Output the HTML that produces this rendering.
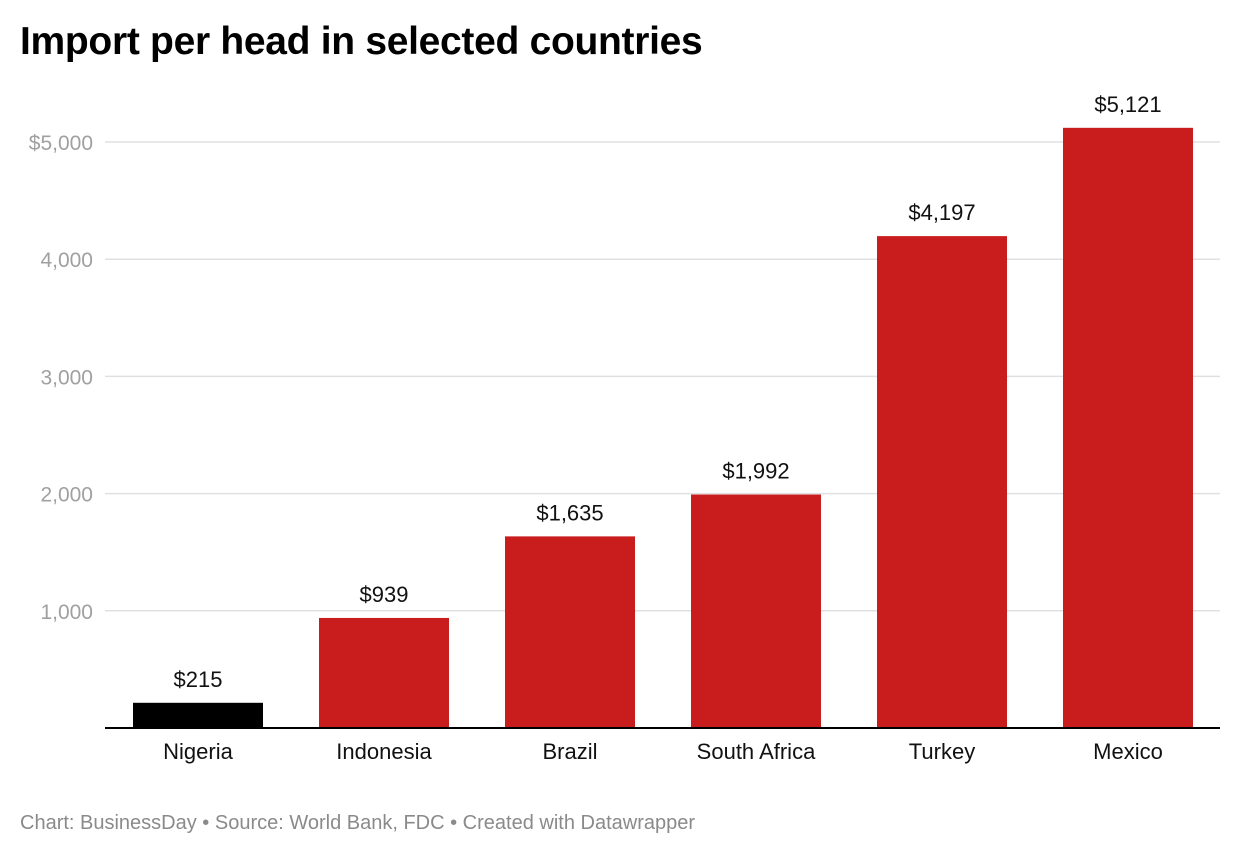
<!DOCTYPE html>
<html><head><meta charset="utf-8"><style>
body{margin:0;background:#fff;width:1240px;height:858px;overflow:hidden;font-family:"Liberation Sans",Arial,sans-serif}
</style></head><body>
<div style="position:absolute;left:20px;top:20px;font-size:39px;font-weight:bold;color:#000;letter-spacing:-0.3px">Import per head in selected countries</div>
<svg id="chart" width="1240" height="858" style="position:absolute;left:0;top:0"></svg>
<div style="position:absolute;left:20px;top:812px;font-size:20px;color:#8a8a8a">Chart: BusinessDay • Source: World Bank, FDC • Created with Datawrapper</div>
<script>
const categories=["Nigeria","Indonesia","Brazil","South Africa","Turkey","Mexico"];
const values=[215,939,1635,1992,4197,5121];
const valueLabels=["$215","$939","$1,635","$1,992","$4,197","$5,121"];
const ticks=[1000,2000,3000,4000,5000];
const tickLabels=["1,000","2,000","3,000","4,000","$5,000"];
const ns="http://www.w3.org/2000/svg";
const svg=document.getElementById('chart');
const y0=728,pxPer=(728-142)/5000;
const y=v=>y0-v*pxPer;
const x=i=>133+i*186;
const bw=130;
function mk(t,a){const e=document.createElementNS(ns,t);for(const k in a)e.setAttribute(k,a[k]);svg.appendChild(e);return e;}
ticks.forEach((t,i)=>{
  const l=mk('line',{x1:105,x2:1220,y1:y(t),y2:y(t),stroke:'#e0e0e0','stroke-width':1.5});
  
  
  const tx=mk('text',{x:93,y:y(t)+8,'text-anchor':'end','font-size':21,fill:'#a0a0a0','font-family':'Liberation Sans, sans-serif'});
  tx.textContent=tickLabels[i];
  
  
});
values.forEach((v,i)=>{
  const r=mk('rect',{x:x(i),y:y(v),width:bw,height:y0-y(v),fill:i===0?'#000':'#c91d1d'});
  
  
  const t=mk('text',{x:x(i)+bw/2,y:y(v)-16,'text-anchor':'middle','font-size':22,fill:'#111','font-family':'Liberation Sans, sans-serif'});
  t.textContent=valueLabels[i];
  
  
  const c=mk('text',{x:x(i)+bw/2,y:759,'text-anchor':'middle','font-size':22,fill:'#111','font-family':'Liberation Sans, sans-serif'});
  c.textContent=categories[i];
  
  
});
const b=mk('line',{x1:105,x2:1220,y1:y0,y2:y0,stroke:'#000','stroke-width':2});


</script>
</body></html>
